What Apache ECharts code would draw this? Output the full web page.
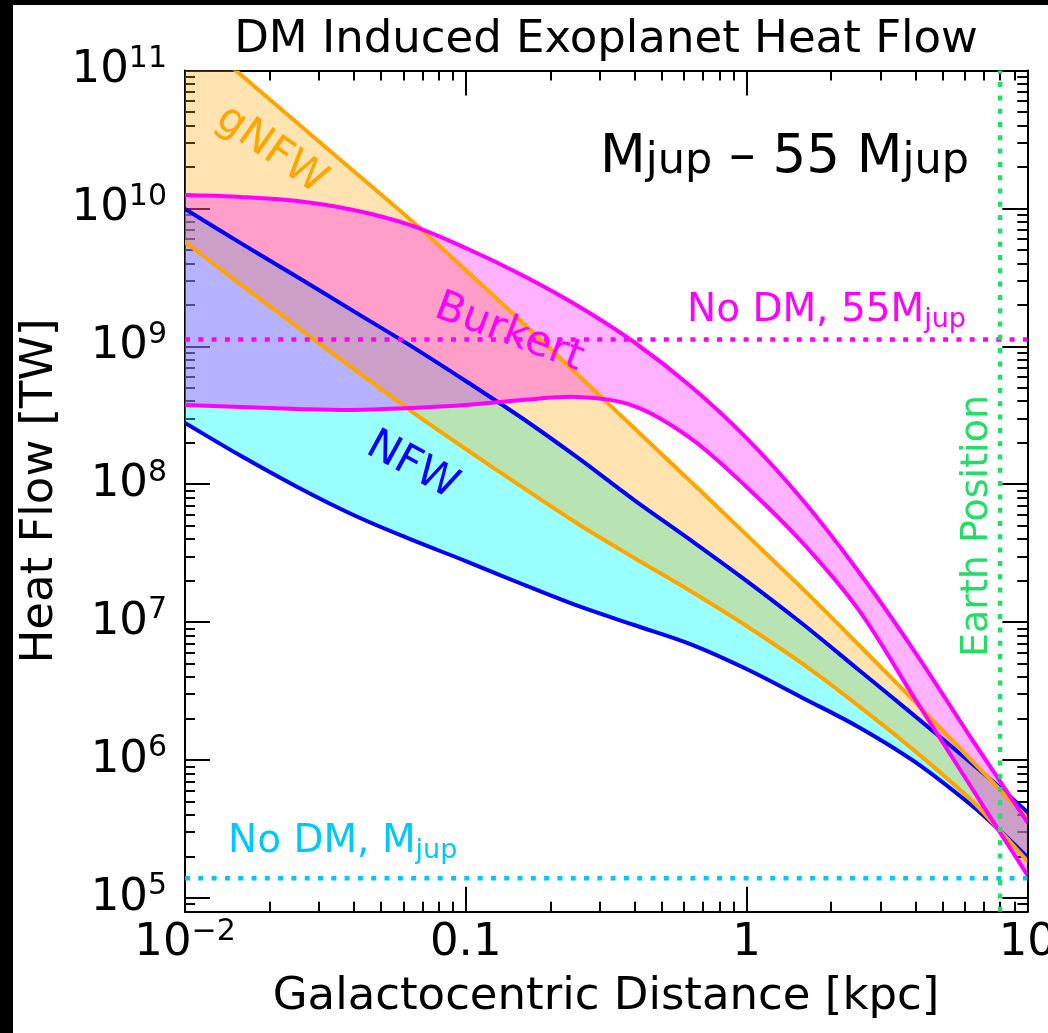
<!DOCTYPE html>
<html><head><meta charset="utf-8">
<script src="https://cdn.jsdelivr.net/npm/echarts@6/dist/echarts.min.js"></script>
<style>html,body{margin:0;padding:0;background:#fff;overflow:hidden;} #c{width:1048px;height:1033px;}</style>
</head><body><div id="c"></div>
<script>
// ---------------- data ----------------
const distances = [0.01, 0.01585, 0.02512, 0.03981, 0.0631, 0.1, 0.1585, 0.2512, 0.3981, 0.631, 1, 1.585, 2.512, 3.981, 6.31, 7.943, 10];
const gnfwUpper = [2.07e11, 9.27e10, 4.16e10, 1.87e10, 8.37e9, 3.57e9, 1.50e9, 6.19e8, 2.55e8, 1.05e8, 4.29e7, 1.74e7, 6.82e6, 2.64e6, 1.0e6, 6.17e5, 3.80e5];
const gnfwLower = [5.70e9, 2.79e9, 1.38e9, 6.85e8, 3.45e8, 1.80e8, 9.55e7, 5.15e7, 2.92e7, 1.68e7, 9.37e6, 4.97e6, 2.46e6, 1.16e6, 5.13e5, 3.11e5, 1.85e5];
const nfwUpper = [9.91e9, 5.58e9, 3.18e9, 1.80e9, 1.02e9, 5.60e8, 3.02e8, 1.55e8, 7.67e7, 3.94e7, 1.99e7, 9.68e6, 4.49e6, 2.08e6, 9.50e5, 6.37e5, 4.20e5];
const nfwLower = [2.78e8, 1.60e8, 9.55e7, 5.98e7, 4.01e7, 2.77e7, 1.89e7, 1.31e7, 9.53e6, 6.93e6, 4.57e6, 2.82e6, 1.73e6, 9.68e5, 4.72e5, 3.11e5, 1.98e5];
const burkertUpper = [1.25e10, 1.21e10, 1.13e10, 9.73e9, 7.59e9, 5.16e9, 3.29e9, 1.96e9, 1.07e9, 5.15e8, 2.16e8, 7.68e7, 2.31e7, 6.07e6, 1.44e6, 7.16e5, 3.55e5];
const burkertLower = [3.75e8, 3.63e8, 3.51e8, 3.45e8, 3.57e8, 3.75e8, 4.08e8, 4.29e8, 3.69e8, 2.16e8, 9.55e7, 3.75e7, 1.22e7, 2.77e6, 6.37e5, 3.05e5, 1.47e5];
const noDmHeat55Mjup = 1.12e9;
const noDmHeatMjup = 1.39e5;
const earthDistance = 8;

const xRange = [0.01, 10];
const yRange = [79433, 1e11];
const xMajorTicks = [0.01, 0.1, 1, 10];
const xTickBase = ['10', '0.1', '1', '10'];
const xTickExp = ['\u22122', '', '', ''];
const xMinorTicks = [0.02, 0.03, 0.04, 0.05, 0.06, 0.07, 0.08, 0.09, 0.2, 0.3, 0.4, 0.5, 0.6, 0.7, 0.8, 0.9, 2, 3, 4, 5, 6, 7, 8, 9];
const yMajorTicks = [1e5, 1e6, 1e7, 1e8, 1e9, 1e10, 1e11];
const yTickBase = '10';
const yTickExp = ['5', '6', '7', '8', '9', '10', '11'];
const yMinorTicks = [8e4, 9e4,
  2e5, 3e5, 4e5, 5e5, 6e5, 7e5, 8e5, 9e5,
  2e6, 3e6, 4e6, 5e6, 6e6, 7e6, 8e6, 9e6,
  2e7, 3e7, 4e7, 5e7, 6e7, 7e7, 8e7, 9e7,
  2e8, 3e8, 4e8, 5e8, 6e8, 7e8, 8e8, 9e8,
  2e9, 3e9, 4e9, 5e9, 6e9, 7e9, 8e9, 9e9,
  2e10, 3e10, 4e10, 5e10, 6e10, 7e10, 8e10, 9e10];

// ---------------- styling ----------------
const FONT = '"DejaVu Sans", "Noto Sans", sans-serif';
const C_NFW = '#0000ff', C_GNFW = '#ffa500', C_BUR = '#ff00ff';
const C_CYAN = '#00c8ff', C_GREEN = '#22dd66';
const SMOOTH = 0.35;

function closestIdx(arr, v) {
  let best = 0, bd = Infinity;
  arr.forEach((a, i) => { const d = Math.abs(Math.log10(a) - Math.log10(v)); if (d < bd) { bd = d; best = i; } });
  return best;
}
const labelRich = {
  b: { fontFamily: FONT, fontSize: 45, lineHeight: 56, color: '#000' },
  s: { fontFamily: FONT, fontSize: 30, lineHeight: 30, color: '#000', padding: [0, 0, 23, 0] }
};
function xFmt(v) {
  const i = closestIdx(xMajorTicks, v);
  return xTickExp[i] ? '{b|' + xTickBase[i] + '}{s|' + xTickExp[i] + '}' : '{b|' + xTickBase[i] + '}';
}
function yFmt(v) {
  const i = closestIdx(yMajorTicks, v);
  return '{b|' + yTickBase + '}{s|' + yTickExp[i] + '}';
}

const axisLineStyle = { color: '#000', width: 2 };
function xAxisDef(position, major, withLine, withLabel) {
  return {
    type: 'log', logBase: 10, min: xRange[0], max: xRange[1], position: position, gridIndex: 0,
    axisLine: { show: withLine, lineStyle: axisLineStyle },
    axisTick: { show: true, inside: true, length: major ? 25 : 10, lineStyle: { color: '#000', width: 2 }, customValues: major ? xMajorTicks : xMinorTicks },
    axisLabel: withLabel ? { show: true, customValues: xMajorTicks, formatter: xFmt, rich: labelRich, margin: 4, showMinLabel: true, showMaxLabel: true, hideOverlap: false } : { show: false },
    splitLine: { show: false }, minorTick: { show: false }, minorSplitLine: { show: false }
  };
}
function yAxisDef(position, major, withLine, withLabel) {
  return {
    type: 'log', logBase: 10, min: yRange[0], max: yRange[1], position: position, gridIndex: 0,
    axisLine: { show: withLine, lineStyle: axisLineStyle },
    axisTick: { show: true, inside: true, length: major ? 25 : 10, lineStyle: { color: '#000', width: 2 }, customValues: major ? yMajorTicks : yMinorTicks },
    axisLabel: withLabel ? { show: true, customValues: yMajorTicks, formatter: yFmt, rich: labelRich, margin: 18, showMinLabel: true, showMaxLabel: true, hideOverlap: false } : { show: false },
    splitLine: { show: false }, minorTick: { show: false }, minorSplitLine: { show: false }
  };
}

// pixel points of a curve; end points are repeated so that the library's
// bezier smoothing behaves identically for the outline and for the filled band
function curvePoints(api, vals) {
  const pts = distances.map((d, i) => api.coord([d, vals[i]]));
  return [pts[0]].concat(pts, [pts[pts.length - 1]]);
}
function clipOf(params) {
  const cs = params.coordSys;
  return { type: 'rect', shape: { x: cs.x, y: cs.y, width: cs.width, height: cs.height } };
}
function bandSeries(upper, lower, fill) {
  return {
    type: 'custom', coordinateSystem: 'cartesian2d', xAxisIndex: 0, yAxisIndex: 0,
    data: [[distances[0], upper[0]]], silent: true, z: 1, animation: false,
    renderItem: function (params, api) {
      const up = curvePoints(api, upper);
      const lo = curvePoints(api, lower).reverse();
      return {
        type: 'polygon', shape: { points: up.concat(lo), smooth: SMOOTH }, style: { fill: fill, stroke: null },
        clipPath: clipOf(params)
      };
    }
  };
}
function curveSeries(vals, color, z) {
  return {
    type: 'custom', coordinateSystem: 'cartesian2d', xAxisIndex: 0, yAxisIndex: 0,
    data: [[distances[0], vals[0]]], silent: true, z: z, animation: false,
    renderItem: function (params, api) {
      return {
        type: 'polyline', shape: { points: curvePoints(api, vals), smooth: SMOOTH },
        style: { stroke: color, lineWidth: 4, fill: null, lineCap: 'round', lineJoin: 'round' },
        clipPath: clipOf(params)
      };
    }
  };
}
function dottedSeries(points, color) {
  return {
    type: 'line', xAxisIndex: 0, yAxisIndex: 0, data: points, symbol: 'none', showSymbol: false,
    clip: true, silent: true, z: 6, animation: false,
    lineStyle: { color: color, width: 4.5, type: [5, 8.3], cap: 'butt' }
  };
}

const option = {
  animation: false,
  backgroundColor: '#ffffff',
  grid: { left: 185, top: 70.5, width: 842.3, height: 841.2, containLabel: false, outerBoundsMode: 'none', show: false },
  xAxis: [xAxisDef('bottom', true, true, true), xAxisDef('bottom', false, false, false),
          xAxisDef('top', true, true, false), xAxisDef('top', false, false, false)],
  yAxis: [yAxisDef('left', true, true, true), yAxisDef('left', false, false, false),
          yAxisDef('right', true, true, false), yAxisDef('right', false, false, false)],
  series: [
    bandSeries(nfwUpper, nfwLower, 'rgba(0,255,255,0.4)'),
    bandSeries(gnfwUpper, gnfwLower, 'rgba(255,165,0,0.3)'),
    bandSeries(burkertUpper, burkertLower, 'rgba(255,0,255,0.3)'),
    curveSeries(nfwUpper, C_NFW, 3), curveSeries(nfwLower, C_NFW, 3),
    curveSeries(gnfwUpper, C_GNFW, 4), curveSeries(gnfwLower, C_GNFW, 4),
    curveSeries(burkertUpper, C_BUR, 5), curveSeries(burkertLower, C_BUR, 5),
    dottedSeries([[xRange[0], noDmHeat55Mjup], [xRange[1], noDmHeat55Mjup]], C_BUR),
    dottedSeries([[xRange[0], noDmHeatMjup], [xRange[1], noDmHeatMjup]], C_CYAN),
    dottedSeries([[earthDistance, yRange[0]], [earthDistance, yRange[1]]], C_GREEN)
  ],
  graphic: [
    { type: 'rect', z: 100, shape: { x: 0, y: 0, width: 13, height: 1033 }, style: { fill: '#000' } },
    { type: 'rect', z: 100, shape: { x: 0, y: 0, width: 1048, height: 5 }, style: { fill: '#000' } },
    { type: 'text', z: 50, x: 606, y: 40, style: { text: 'DM Induced Exoplanet Heat Flow', font: '45px ' + FONT, fill: '#000', align: 'center', verticalAlign: 'middle' } },
    { type: 'text', z: 50, x: 600, y: 158, style: {
        text: '{M|M}{j|jup}{M| \u2013 55 M}{j|jup}', align: 'left', verticalAlign: 'middle',
        rich: { M: { fontFamily: FONT, fontSize: 53, lineHeight: 60, fill: '#000' },
                j: { fontFamily: FONT, fontSize: 43, lineHeight: 60, fill: '#000', padding: [7, 0, 0, 0] } } } },
    { type: 'text', z: 50, x: 687, y: 311, style: {
        text: '{a|No DM, 55M}{s|jup}', align: 'left', verticalAlign: 'middle',
        rich: { a: { fontFamily: FONT, fontSize: 39, lineHeight: 50, fill: C_BUR },
                s: { fontFamily: FONT, fontSize: 27, lineHeight: 50, fill: C_BUR, padding: [18, 0, 0, 0] } } } },
    { type: 'text', z: 50, x: 228, y: 842, style: {
        text: '{a|No DM, M}{s|jup}', align: 'left', verticalAlign: 'middle',
        rich: { a: { fontFamily: FONT, fontSize: 39, lineHeight: 50, fill: C_CYAN },
                s: { fontFamily: FONT, fontSize: 27, lineHeight: 50, fill: C_CYAN, padding: [18, 0, 0, 0] } } } },
    { type: 'text', z: 50, x: 977, y: 526, rotation: Math.PI / 2, style: { text: 'Earth Position', font: '38px ' + FONT, fill: C_GREEN, align: 'center', verticalAlign: 'middle' } },
    { type: 'text', z: 50, x: 271, y: 150, rotation: -0.61, style: { text: 'gNFW', font: '42px ' + FONT, fill: C_GNFW, align: 'center', verticalAlign: 'middle' } },
    { type: 'text', z: 50, x: 509, y: 333, rotation: -0.36, style: { text: 'Burkert', font: '42px ' + FONT, fill: C_BUR, align: 'center', verticalAlign: 'middle' } },
    { type: 'text', z: 50, x: 412, y: 466, rotation: -0.5, style: { text: 'NFW', font: '42px ' + FONT, fill: C_NFW, align: 'center', verticalAlign: 'middle' } },
    { type: 'text', z: 50, x: 40, y: 491, rotation: Math.PI / 2, style: { text: 'Heat Flow [TW]', font: '45px ' + FONT, fill: '#000', align: 'center', verticalAlign: 'middle' } },
    { type: 'text', z: 50, x: 606, y: 997, style: { text: 'Galactocentric Distance [kpc]', font: '45px ' + FONT, fill: '#000', align: 'center', verticalAlign: 'middle' } }
  ]
};
const chart = echarts.init(document.getElementById('c'), null, { renderer: 'canvas', width: 1048, height: 1033 });
chart.setOption(option);
</script>
</body></html>
